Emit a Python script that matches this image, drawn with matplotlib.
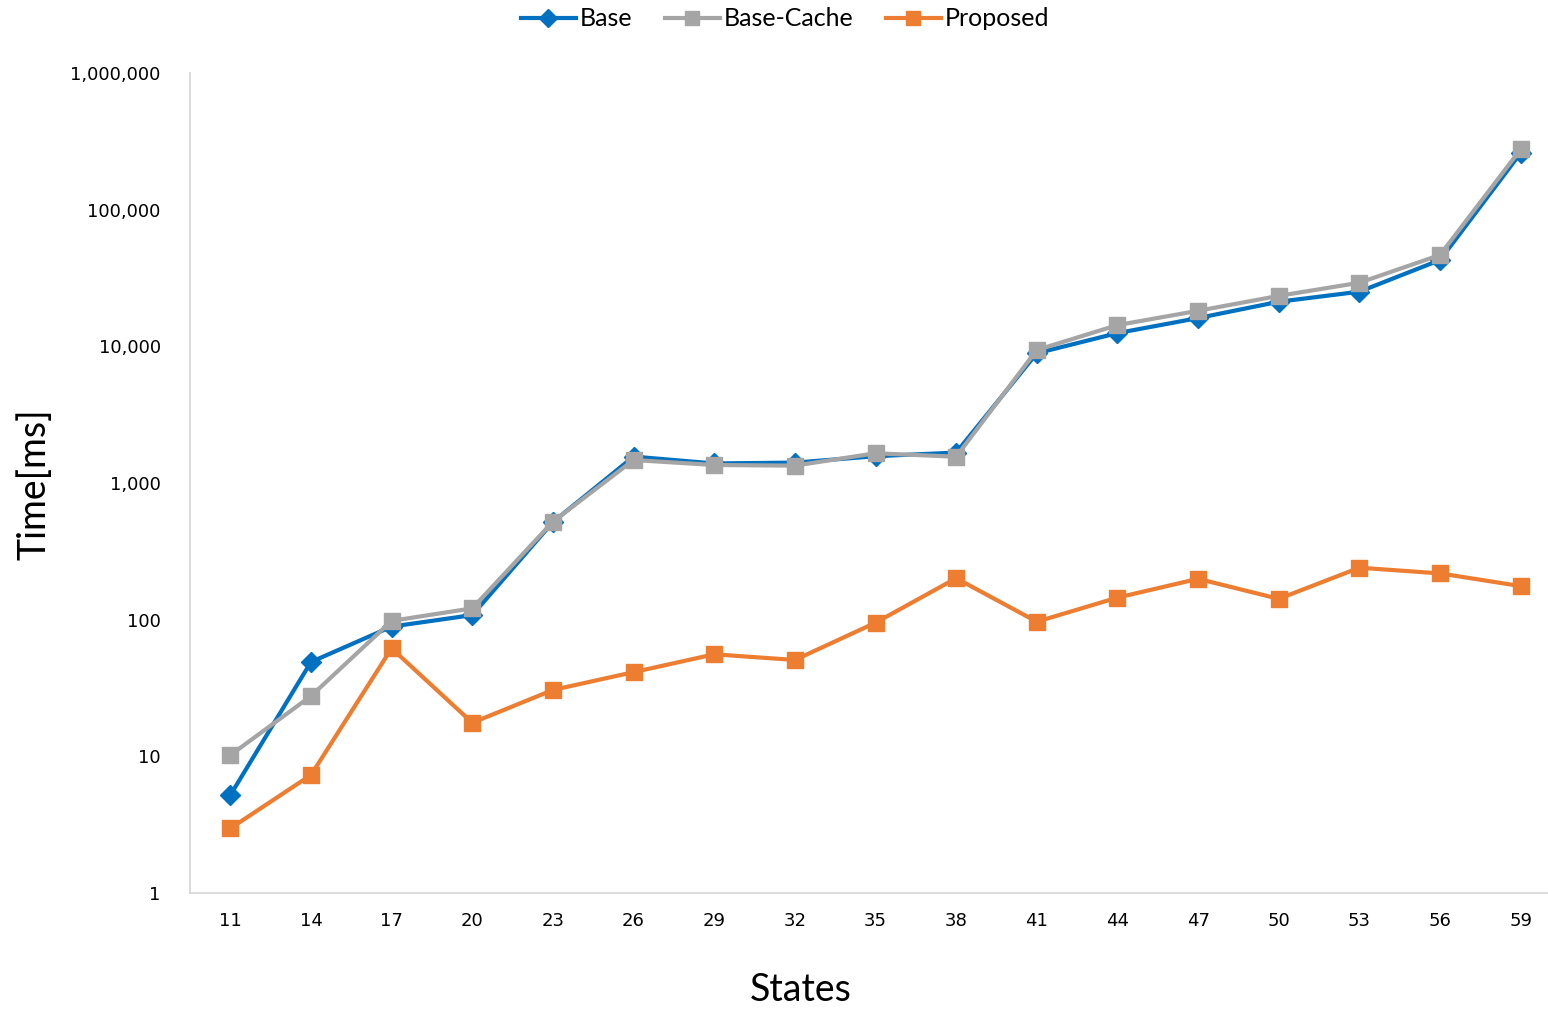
import matplotlib
matplotlib.use("Agg")
import matplotlib.pyplot as plt
from matplotlib.ticker import FixedLocator, FuncFormatter, NullLocator

# Number of states per benchmark
states = [11, 14, 17, 20, 23, 26, 29, 32, 35, 38, 41, 44, 47, 50, 53, 56, 59]

# Run times in milliseconds
base = [5.2, 49, 89, 108, 518, 1560, 1390, 1410, 1570, 1670,
        8900, 12500, 16100, 21200, 25100, 42800, 260000]
base_cache = [10.2, 27.6, 98, 121, 521, 1473, 1354, 1340, 1650, 1557,
              9400, 14300, 18200, 23400, 29200, 46600, 276500]
proposed = [2.97, 7.3, 61.7, 17.6, 30.6, 41.3, 55.8, 50.7, 95, 201,
            96.6, 145, 199, 142, 240, 218, 176]

y_ticks = [1, 10, 100, 1000, 10000, 100000, 1000000]

BLUE = "#0070C0"
GRAY = "#A5A5A5"
ORANGE = "#ED7D31"
SPINE = "#D9D9D9"
TITLE_FONT = ["Lato", "DejaVu Sans"]

W, H = 1548, 1009
fig = plt.figure(figsize=(W / 100, H / 100), dpi=100)
left, right, top, bottom = 190, 1561, 73, 893
ax = fig.add_axes([left / W, 1 - bottom / H, (right - left) / W, (bottom - top) / H])

x = list(range(len(states)))
ax.plot(x, base, color=BLUE, lw=3, marker="D", ms=10, label="Base", zorder=3,
        solid_joinstyle="round")
ax.plot(x, base_cache, color=GRAY, lw=3, marker="s", ms=11.5, label="Base-Cache",
        zorder=4, solid_joinstyle="round")
ax.plot(x, proposed, color=ORANGE, lw=3, marker="s", ms=11.5, label="Proposed",
        zorder=5, solid_joinstyle="round")

ax.set_yscale("log")
ax.set_ylim(1, 1000000)
ax.yaxis.set_major_locator(FixedLocator(y_ticks))
ax.yaxis.set_minor_locator(NullLocator())
ax.yaxis.set_major_formatter(FuncFormatter(lambda v, p: f"{int(round(v)):,}"))

ax.set_xlim(-0.5, len(states) - 0.5)
ax.set_xticks(x)
ax.set_xticklabels([str(s) for s in states])

ax.tick_params(axis="both", length=0, labelsize=13, colors="#000000")
ax.tick_params(axis="y", pad=21)
ax.tick_params(axis="x", pad=14)

for side in ("top", "right"):
    ax.spines[side].set_visible(False)
for side in ("left", "bottom"):
    ax.spines[side].set_color(SPINE)
    ax.spines[side].set_linewidth(1.3)

fig.text(801 / W, 1 - 990 / H, "States", ha="center", va="center",
         fontsize=27, family=TITLE_FONT)
fig.text(35 / W, 1 - 484 / H, "Time[ms]", ha="center", va="center",
         rotation=90, fontsize=27, family=TITLE_FONT)

fig.legend(loc="center", bbox_to_anchor=(785 / W, 1 - 19 / H), ncol=3,
           frameon=False, prop={"family": TITLE_FONT, "size": 18},
           handlelength=2.2, handletextpad=0.15, columnspacing=1.3,
           borderaxespad=0, markerscale=0.9)

fig.savefig("out.png", dpi=100)
